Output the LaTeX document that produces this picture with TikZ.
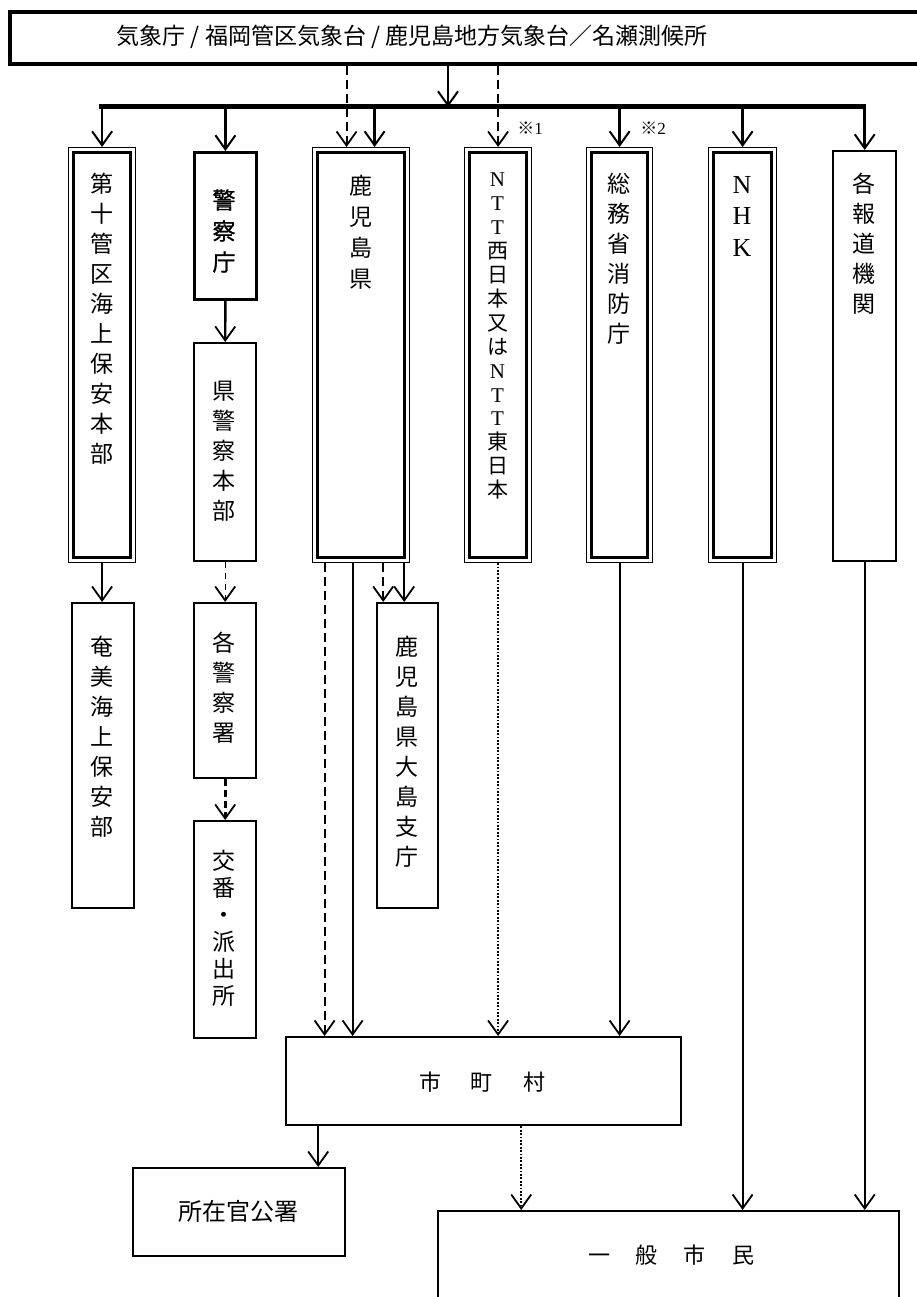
\documentclass[tikz,border=0pt]{standalone}
\usepackage{fontspec}
\setmainfont{Liberation Serif}
\newfontfamily\jp{Noto Sans CJK JP}
\newfontfamily\jpb[FakeBold=1.2]{Noto Sans CJK JP}
\newfontfamily\lat{Liberation Serif}
\usetikzlibrary{arrows.meta}
\begin{document}
\begin{tikzpicture}[x=1pt,y=-1pt,
  box/.style={draw, line width=2.4pt, inner sep=0pt, anchor=north west},
  obox/.style={draw, line width=1.2pt, inner sep=0pt, anchor=north west},
  ibox/.style={line width=2.6pt},
  vt/.style={font=\jp\fontsize{23}{30}\selectfont, align=center, inner sep=0pt},
  ht/.style={font=\jp\fontsize{23}{28}\selectfont, inner sep=0pt},
  arr/.style={line width=2pt, -{Straight Barb[length=14pt,width=20pt,line width=1.8pt]}},
  barr/.style={line width=2.6pt, -{Straight Barb[length=14pt,width=20pt,line width=2pt]}},
  dsh/.style={dash pattern=on 9pt off 5pt, line width=2.2pt},
  tdsh/.style={dash pattern=on 6pt off 5pt, line width=1.2pt},
  kdsh/.style={dash pattern=on 7pt off 4pt, line width=2.8pt},
  dot/.style={dash pattern=on 1.8pt off 1.6pt, line width=2pt},
  note/.style={font=\jp\fontsize{17}{20}\selectfont, inner sep=0pt},
]
\useasboundingbox (0,0) rectangle (916,1297);

% top box
\node[draw, line width=4pt, inner sep=0pt, anchor=north west, minimum width=930pt, minimum height=52pt] (top) at (8,10) {};
\node[ht] (toptxt) at (412,37) {気象庁 / 福岡管区気象台 / 鹿児島地方気象台／名瀬測候所};

% first row
\node[obox, minimum width=67pt, minimum height=415pt] (b1) at (68,147) {};
\node[box, line width=2.8pt, minimum width=62pt, minimum height=147pt] (b2) at (193,151) {};
\node[obox, minimum width=97pt, minimum height=415pt] (b3) at (312,147) {};
\node[obox, minimum width=67pt, minimum height=415pt] (b4) at (464,147) {};
\node[obox, minimum width=66pt, minimum height=415pt] (b5) at (586,147) {};
\node[obox, minimum width=68pt, minimum height=415pt] (b6) at (708,147) {};
\node[box, minimum width=63pt, minimum height=410pt] (b7) at (832,150) {};
\foreach \n in {b1,b3,b4,b5,b6}
  \draw[ibox] ([xshift=5.5pt,yshift=-5.5pt]\n.north west) rectangle ([xshift=-5.5pt,yshift=5.5pt]\n.south east);

% second row
\node[box, minimum width=62pt, minimum height=305pt] (c1) at (71,602) {};
\node[box, minimum width=62pt, minimum height=218pt] (c2) at (193,342) {};
\node[box, minimum width=62pt, minimum height=175pt] (c3) at (193,602) {};
\node[box, minimum width=62pt, minimum height=217pt] (c4) at (193,820) {};
\node[box, minimum width=61pt, minimum height=305pt] (c5) at (376,602) {};

% bottom
\node[box, minimum width=395pt, minimum height=88pt] (m) at (285,1036) {};
\node[box, minimum width=212pt, minimum height=88pt] (s) at (132,1167) {};
\node[box, minimum width=461pt, minimum height=130pt] (g) at (437,1210) {};

% texts
\node[vt, anchor=north] (t1) at (101.5,173) {第\\十\\管\\区\\海\\上\\保\\安\\本\\部};
\node[vt, font=\jpb\fontsize{23}{31}\selectfont] (t2) at (224,231) {警\\察\\庁};
\node[vt, anchor=north, font=\jp\fontsize{23}{31}\selectfont] (t3) at (360.5,175) {鹿\\児\\島\\県};
\node[vt, anchor=north, font=\jp\fontsize{21}{23.9}\selectfont] (t4) at (497.5,173)
  {{\lat N}\\{\lat T}\\{\lat T}\\西\\日\\本\\又\\は\\{\lat N}\\{\lat T}\\{\lat T}\\東\\日\\本};
\node[vt, anchor=north] (t5) at (619,173) {総\\務\\省\\消\\防\\庁};
\node[vt, anchor=north, font=\lat\fontsize{26}{31.5}\selectfont] (t6) at (742,176) {N\\H\\K};
\node[vt, anchor=north] (t7) at (863.5,173) {各\\報\\道\\機\\関};
\node[vt] (u1) at (102,737) {奄\\美\\海\\上\\保\\安\\部};
\node[vt] (u2) at (224,451) {県\\警\\察\\本\\部};
\node[vt] (u3) at (224,688) {各\\警\\察\\署};
\node[vt, font=\jp\fontsize{23}{27}\selectfont] (u4) at (224,928) {交\\番\\・\\派\\出\\所};
\node[vt] (u5) at (406.5,752) {鹿\\児\\島\\県\\大\\島\\支\\庁};
\node[ht, font=\jp\fontsize{22}{26}\selectfont] (tm) at (482,1082) {市\hspace{30pt}町\hspace{30pt}村};
\node[ht, font=\jp\fontsize{24}{28}\selectfont] (ts) at (238,1211) {所在官公署};
\node[ht, font=\jp\fontsize{22}{26}\selectfont] (tg) at (671,1255) {一\hspace{26pt}般\hspace{26pt}市\hspace{26pt}民};
\node[note] (n1) at (530,128) {※{\lat 1}};
\node[note] (n2) at (653,128) {※{\lat 2}};

% bus
\coordinate (bm) at (448,107);
\coordinate (bl) at (101.5,107);
\coordinate (br) at (863.5,107);
\draw[barr] (top.south -| bm) -- (bm);
\draw[line width=5pt, line cap=rect] (bl) -- (br);
\foreach \n in {b1,b2,b5,b6,b7}
  \draw[barr] (\n.north |- bm) -- (\n.north);
\draw[barr] ([xshift=13.5pt]b3.north |- bm) -- ([xshift=13.5pt]b3.north);
\draw[arr, dsh] ([xshift=-14.5pt]b3.north |- top.south) -- ([xshift=-14.5pt]b3.north);
\draw[arr, dsh] (b4.north |- top.south) -- (b4.north);

% lower connectors
\draw[arr, line width=2.4pt] (b1.south) -- (b1.south |- c1.north);
\draw[arr, line width=2.4pt] (b2.south) -- (c2.north);
\draw[arr, tdsh] (c2.south) -- (c3.north);
\draw[arr, kdsh] (c3.south) -- (c4.north);
\draw[arr, dsh] ([xshift=-24.5pt]c5.north |- b3.south) -- ([xshift=-24.5pt]c5.north);
\draw[arr] ([xshift=-3.5pt]c5.north |- b3.south) -- ([xshift=-3.5pt]c5.north);
\draw[arr, dsh] ([xshift=-36.5pt]b3.south) -- ([xshift=-36.5pt]b3.south |- m.north);
\draw[arr] ([xshift=-8.5pt]b3.south) -- ([xshift=-8.5pt]b3.south |- m.north);
\draw[arr, dot] (b4.south) -- (b4.south |- m.north);
\draw[arr] (b5.south) -- (b5.south |- m.north);
\draw[arr] (b6.south) -- (b6.south |- g.north);
\draw[arr] (b7.south) -- (b7.south |- g.north);
\draw[arr] ([xshift=79pt]s.north |- m.south) -- ([xshift=79pt]s.north);
\draw[arr, dot] ([xshift=-147.5pt]g.north |- m.south) -- ([xshift=-147.5pt]g.north);
\end{tikzpicture}
\end{document}
